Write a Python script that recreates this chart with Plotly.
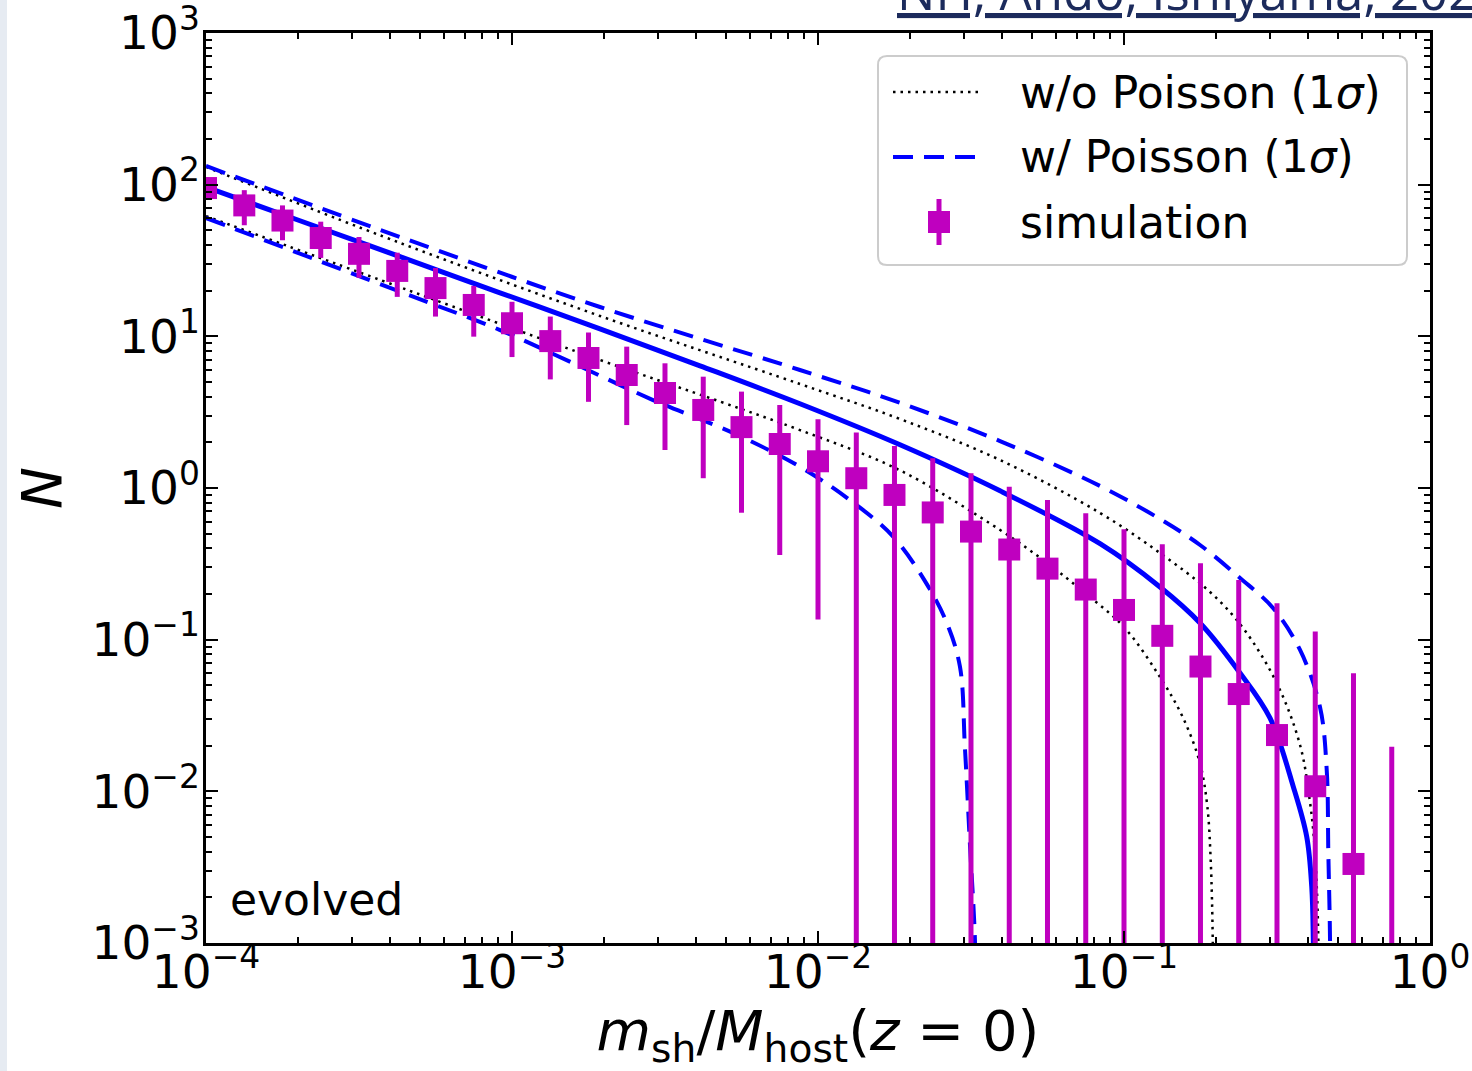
import plotly.graph_objects as go

# ---------------- data ----------------
# simulation points (m_sh/M_host, N) with 1-sigma error bounds
sim_x = [1.000e-4, 1.334e-4, 1.778e-4, 2.371e-4, 3.162e-4, 4.217e-4, 5.623e-4, 7.499e-4,
         1.000e-3, 1.334e-3, 1.778e-3, 2.371e-3, 3.162e-3, 4.217e-3, 5.623e-3, 7.499e-3,
         1.000e-2, 1.334e-2, 1.778e-2, 2.371e-2, 3.162e-2, 4.217e-2, 5.623e-2, 7.499e-2,
         0.1000, 0.1334, 0.1778, 0.2371, 0.3162, 0.4217, 0.5623, 0.7499]
sim_N = [95, 73, 58, 44.5, 35, 27, 20.8, 16.1, 12.2, 9.3, 7.2, 5.56, 4.23, 3.27, 2.52, 1.95,
         1.50, 1.16, 0.90, 0.69, 0.516, 0.393, 0.294, 0.214, 0.157, 0.106, 0.0665, 0.0438,
         0.0235, 0.0108, 0.00332, None]
sim_upper = [112, 92, 73, 57, 45.2, 35.6, 28.2, 21.5, 16.9, 13.5, 10.6, 8.55, 6.64, 5.42, 4.32, 3.52,
             2.84, 2.32, 1.89, 1.57, 1.25, 1.02, 0.834, 0.681, 0.534, 0.426, 0.319, 0.247,
             0.174, 0.113, 0.060, 0.0197]
sim_lower = [80, 54, 43, 32.9, 24.3, 18.2, 13.5, 9.95, 7.3, 5.2, 3.7, 2.6, 1.78, 1.16, 0.687, 0.361,
             0.136, 0, 0, 0, 0, 0, 0, 0, 0, 0, 0, 0, 0, 0, 0, 0]

# model median (solid blue)
med_x = [1.0e-4, 2.028e-4, 4.305e-4, 9.137e-4, 1.939e-3, 4.115e-3, 8.73e-3, 1.854e-2, 3.934e-2,
         8.35e-2, 0.1311, 0.1772, 0.2394, 0.2999, 0.3575, 0.3955, 0.4107, 0.4156, 0.418]
med_y = [96.5, 57.8, 33.5, 19.37, 11.21, 6.394, 3.592, 1.927, 0.9585,
         0.429, 0.2225, 0.1288, 0.0603, 0.03046, 0.01073, 0.005023, 0.002351, 0.001047, 0.0002]

# w/ Poisson 1-sigma (dashed blue)
wp_hi_x = [1.0e-4, 4.305e-4, 1.939e-3, 8.73e-3, 1.854e-2, 3.934e-2, 8.35e-2, 0.1311, 0.1772,
           0.2394, 0.3068, 0.3761, 0.4370, 0.4597, 0.4653, 0.4713, 0.473]
wp_hi_y = [132.8, 45.2, 15.61, 6.00, 3.64, 2.04, 1.031, 0.6247, 0.4209,
           0.2551, 0.1618, 0.0855, 0.0360, 0.01382, 0.00392, 0.00105, 0.0002]
wp_lo_x = [1.0e-4, 4.30e-4, 9.14e-4, 1.58e-3, 2.89e-3, 5.27e-3, 8.73e-3, 1.27e-2, 1.76e-2, 2.26e-2,
           2.64e-2, 2.91e-2, 3.02e-2, 3.14e-2, 3.26e-2, 3.28e-2]
wp_lo_y = [60.3, 19.7, 11.0, 6.67, 3.80, 2.31, 1.38, 0.834, 0.478, 0.235,
           0.128, 0.0664, 0.0197, 0.00431, 0.001, 0.0002]

# w/o Poisson 1-sigma (dotted black)
np_hi_x = [1.0e-4, 4.305e-4, 1.939e-3, 8.73e-3, 1.854e-2, 3.934e-2, 8.35e-2, 0.1311, 0.1910,
           0.2448, 0.3155, 0.3761, 0.4053, 0.4209, 0.4315, 0.433]
np_hi_y = [130.8, 41.3, 13.62, 4.85, 2.85, 1.530, 0.684, 0.3727, 0.2063,
           0.1195, 0.0518, 0.0202, 0.00851, 0.00392, 0.001096, 0.0002]
np_lo_x = [1.0e-4, 4.30e-4, 1.94e-3, 4.79e-3, 8.73e-3, 1.85e-2, 3.94e-2, 5.60e-2, 7.52e-2, 0.100,
           0.131, 0.156, 0.177, 0.187, 0.192, 0.195, 0.196]
np_lo_y = [62.1, 21.1, 6.98, 3.71, 2.41, 1.31, 0.528, 0.321, 0.200, 0.121,
           0.0568, 0.0305, 0.0154, 0.00813, 0.00352, 0.00105, 0.0002]

x_tickvals = [1e-4, 1e-3, 1e-2, 1e-1, 1]
x_ticktext = ["10<sup>\u22124</sup>", "10<sup>\u22123</sup>", "10<sup>\u22122</sup>",
              "10<sup>\u22121</sup>", "10<sup>0</sup>"]
y_tickvals = [1e-3, 1e-2, 1e-1, 1, 10, 100, 1000]
y_ticktext = ["10<sup>\u22123</sup>", "10<sup>\u22122</sup>", "10<sup>\u22121</sup>",
              "10<sup>0</sup>", "10<sup>1</sup>", "10<sup>2</sup>", "10<sup>3</sup>"]

legend_labels = ["w/o Poisson (1<i>\u03c3</i>)", "w/ Poisson (1<i>\u03c3</i>)", "simulation"]
header_text = "NH, Ando, Ishiyama, 2020"

# ---------------- styling ----------------
BLUE = "#0000ff"
MAG = "#bf00bf"
FONT = "DejaVu Sans"
W, H = 1472, 1071
ML, MR, MT, MB = 206, 42, 33, 128
PW, PH = W - ML - MR, H - MT - MB


def px(xp):
    return (xp - ML) / PW


def py(yp):
    return (H - MB - yp) / PH


fig = go.Figure()

# dotted (w/o Poisson)
for xs, ys in [(np_hi_x, np_hi_y), (np_lo_x, np_lo_y)]:
    fig.add_trace(go.Scatter(x=xs, y=ys, mode="lines", line_shape="spline",
                             line=dict(color="black", width=2.5, dash="2.5px,5px"),
                             showlegend=False, hoverinfo="skip"))
# dashed (w/ Poisson)
for xs, ys in [(wp_hi_x, wp_hi_y), (wp_lo_x, wp_lo_y)]:
    fig.add_trace(go.Scatter(x=xs, y=ys, mode="lines", line_shape="spline",
                             line=dict(color=BLUE, width=4, dash="20px,11px"),
                             showlegend=False, hoverinfo="skip"))
# median solid
fig.add_trace(go.Scatter(x=med_x, y=med_y, mode="lines", line_shape="spline",
                         line=dict(color=BLUE, width=5), showlegend=False, hoverinfo="skip"))

# simulation error bars (vertical segments)
ex, ey = [], []
for xv, lo, hi in zip(sim_x, sim_lower, sim_upper):
    ex += [xv, xv, None]
    ey += [lo if lo > 0 else 1e-6, hi, None]
fig.add_trace(go.Scatter(x=ex, y=ey, mode="lines", line=dict(color=MAG, width=5),
                         showlegend=False, hoverinfo="skip"))
# simulation markers
fig.add_trace(go.Scatter(x=sim_x, y=sim_N, mode="markers",
                         marker=dict(symbol="square", size=22, color=MAG, line=dict(width=0)),
                         showlegend=False))

axis_common = dict(
    type="log", showgrid=False, zeroline=False, showline=True, linecolor="black", linewidth=2.5,
    ticks="inside", ticklen=12, tickwidth=2, tickcolor="black", mirror="allticks",
    tickfont=dict(family=FONT, size=47, color="black"), tickmode="array",
    automargin=False, ticklabeloverflow="allow",
)
minor_x = [m * 10 ** e for e in range(-4, 0) for m in range(2, 10)]
minor_y = [m * 10 ** e for e in range(-3, 3) for m in range(2, 10)]

fig.update_xaxes(**axis_common, range=[-4, 0], tickvals=x_tickvals, ticktext=x_ticktext,
                 ticklabelstandoff=-14,
                 minor=dict(ticks="inside", ticklen=6, tickwidth=1.5, tickcolor="black",
                            tickmode="array", tickvals=minor_x, showgrid=False),
                 title=dict(text="<i>m</i><sub>sh</sub>/<i>M</i><sub>host</sub>(<i>z</i> = 0)",
                            font=dict(family=FONT, size=56, color="black"), standoff=20))
fig.update_yaxes(**axis_common, range=[-3, 3], tickvals=y_tickvals, ticktext=y_ticktext,
                 ticklabelstandoff=-6,
                 minor=dict(ticks="inside", ticklen=6, tickwidth=1.5, tickcolor="black",
                            tickmode="array", tickvals=minor_y, showgrid=False),
                 title=dict(text="<i>N</i>", font=dict(family=FONT, size=56, color="black"),
                            standoff=12))

shapes = []
annotations = []

# faint notebook strip at left edge
shapes.append(dict(type="rect", xref="paper", yref="paper", x0=px(0), x1=px(7), y0=py(H), y1=py(0),
                   fillcolor="#e6ebf2", line=dict(width=0), layer="below"))

# custom legend box (rounded)
lx0, lx1, ly0, ly1, r = 878, 1407, 56, 265, 9
rx, ry = r / PW, r / PH
X0, X1, Y0, Y1 = px(lx0), px(lx1), py(ly1), py(ly0)
path = (f"M{X0+rx},{Y0} L{X1-rx},{Y0} Q{X1},{Y0} {X1},{Y0+ry} L{X1},{Y1-ry} Q{X1},{Y1} {X1-rx},{Y1} "
        f"L{X0+rx},{Y1} Q{X0},{Y1} {X0},{Y1-ry} L{X0},{Y0+ry} Q{X0},{Y0} {X0+rx},{Y0} Z")
shapes.append(dict(type="path", xref="paper", yref="paper", path=path,
                   fillcolor="rgba(255,255,255,0.9)", line=dict(color="#cccccc", width=2)))
row_y = [92, 157, 222]
shapes.append(dict(type="line", xref="paper", yref="paper", x0=px(893), x1=px(982),
                   y0=py(row_y[0]), y1=py(row_y[0]), line=dict(color="black", width=2.5, dash="2.5px,5px")))
shapes.append(dict(type="line", xref="paper", yref="paper", x0=px(893), x1=px(986),
                   y0=py(row_y[1]), y1=py(row_y[1]), line=dict(color=BLUE, width=4, dash="20px,11px")))
shapes.append(dict(type="line", xref="paper", yref="paper", x0=px(939), x1=px(939),
                   y0=py(row_y[2] - 23), y1=py(row_y[2] + 23), line=dict(color=MAG, width=5)))
shapes.append(dict(type="rect", xref="paper", yref="paper", x0=px(928), x1=px(950),
                   y0=py(row_y[2] + 11), y1=py(row_y[2] - 11), fillcolor=MAG, line=dict(width=0)))
for lab, yy in zip(legend_labels, row_y):
    annotations.append(dict(text=lab, xref="paper", yref="paper", x=px(1018), y=py(yy),
                            xanchor="left", yanchor="middle", showarrow=False,
                            font=dict(family=FONT, size=44, color="black")))

annotations.append(dict(text="evolved", xref="paper", yref="paper", x=px(228), y=py(899),
                        xanchor="left", yanchor="middle", showarrow=False,
                        font=dict(family=FONT, size=44, color="black")))
annotations.append(dict(text="<u>" + header_text + "</u>", xref="paper", yref="paper",
                        x=px(895), y=py(27), xanchor="left", yanchor="bottom", showarrow=False,
                        font=dict(family="Open Sans", size=51, color="#1c2b5c")))

fig.update_layout(
    width=W, height=H, margin=dict(l=ML, r=MR, t=MT, b=MB, pad=0, autoexpand=False),
    paper_bgcolor="white", plot_bgcolor="white", showlegend=False,
    shapes=shapes, annotations=annotations,
)

fig.write_html("out.html", config={"displayModeBar": False},
               post_script=("document.documentElement.style.margin='0px';"
                            "document.documentElement.style.overflow='hidden';"
                            "document.body.style.margin='0px';document.body.style.overflow='hidden';"))
